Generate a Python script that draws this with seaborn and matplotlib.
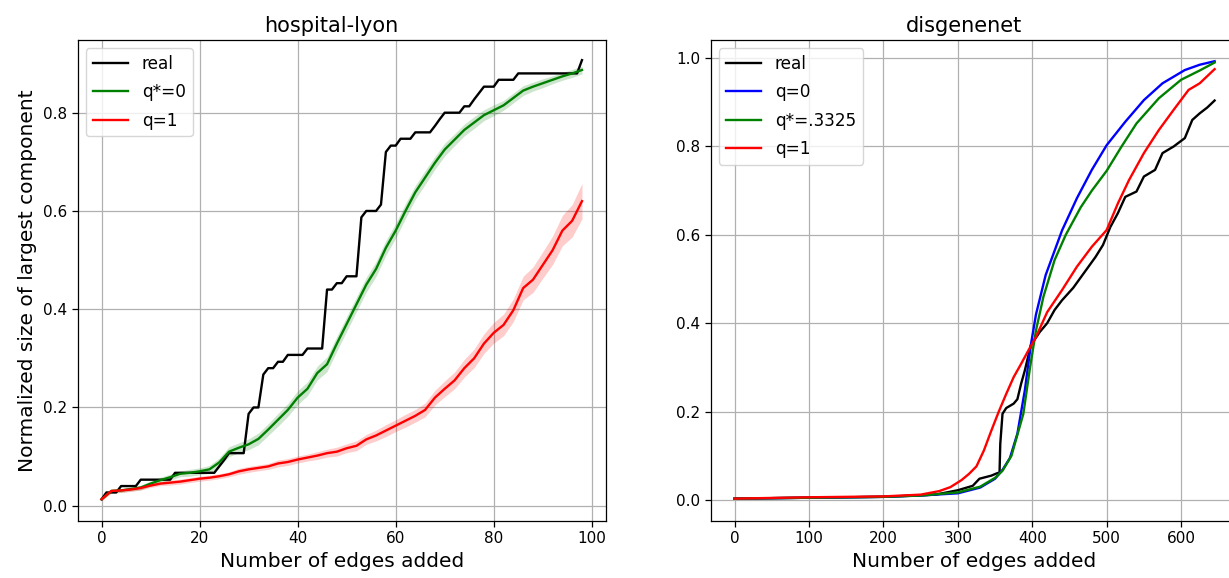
import numpy as np
import pandas as pd
import matplotlib
matplotlib.use("Agg")
import matplotlib.pyplot as plt
import seaborn as sns

# ---------------- hospital-lyon ----------------
hl_real_x = list(range(0, 99))
hl_real_y = [
    0.013, 0.027, 0.027, 0.027, 0.040, 0.040, 0.040, 0.040, 0.053, 0.053,  # 0-9
    0.053, 0.053, 0.053, 0.053, 0.053, 0.067, 0.067, 0.067, 0.067, 0.067,  # 10-19
    0.067, 0.067, 0.067, 0.067, 0.080, 0.093, 0.107, 0.107, 0.107, 0.107,  # 20-29
    0.187, 0.200, 0.200, 0.267, 0.280, 0.280, 0.293, 0.293, 0.307, 0.307,  # 30-39
    0.307, 0.307, 0.320, 0.320, 0.320, 0.320, 0.440, 0.440, 0.453, 0.453,  # 40-49
    0.467, 0.467, 0.467, 0.587, 0.600, 0.600, 0.600, 0.613, 0.720, 0.733,  # 50-59
    0.733, 0.747, 0.747, 0.747, 0.760, 0.760, 0.760, 0.760, 0.773, 0.787,  # 60-69
    0.800, 0.800, 0.800, 0.800, 0.813, 0.813, 0.827, 0.840, 0.853, 0.853,  # 70-79
    0.853, 0.867, 0.867, 0.867, 0.867, 0.880, 0.880, 0.880, 0.880, 0.880,  # 80-89
    0.880, 0.880, 0.880, 0.880, 0.880, 0.880, 0.880, 0.880, 0.907,         # 90-98
]

hl_model_x = list(range(0, 100, 2))
hl_q0_y = [
    0.013, 0.030, 0.031, 0.034, 0.037, 0.045, 0.052, 0.058, 0.065, 0.067,  # 0-18
    0.070, 0.074, 0.088, 0.110, 0.118, 0.125, 0.136, 0.155, 0.175, 0.195,  # 20-38
    0.220, 0.238, 0.270, 0.288, 0.330, 0.370, 0.410, 0.450, 0.482, 0.525,  # 40-58
    0.560, 0.600, 0.638, 0.668, 0.698, 0.725, 0.745, 0.765, 0.780, 0.795,  # 60-78
    0.805, 0.815, 0.830, 0.845, 0.853, 0.860, 0.867, 0.874, 0.880, 0.887,  # 80-98
]
hl_q0_err = [
    0.003, 0.004, 0.004, 0.004, 0.005, 0.005, 0.006, 0.006, 0.006, 0.007,
    0.007, 0.008, 0.009, 0.010, 0.010, 0.011, 0.012, 0.012, 0.013, 0.013,
    0.014, 0.014, 0.014, 0.015, 0.015, 0.015, 0.015, 0.015, 0.015, 0.015,
    0.015, 0.015, 0.014, 0.014, 0.013, 0.013, 0.012, 0.012, 0.012, 0.011,
    0.011, 0.010, 0.010, 0.010, 0.009, 0.009, 0.008, 0.008, 0.008, 0.008,
]
hl_q1_y = [
    0.013, 0.030, 0.031, 0.033, 0.036, 0.041, 0.045, 0.047, 0.049, 0.052,  # 0-18
    0.055, 0.057, 0.060, 0.064, 0.070, 0.074, 0.077, 0.080, 0.086, 0.089,  # 20-38
    0.094, 0.098, 0.102, 0.107, 0.110, 0.117, 0.122, 0.135, 0.143, 0.153,  # 40-58
    0.163, 0.173, 0.183, 0.195, 0.220, 0.238, 0.255, 0.280, 0.300, 0.330,  # 60-78
    0.352, 0.368, 0.398, 0.443, 0.460, 0.490, 0.520, 0.560, 0.580, 0.620,  # 80-98
]
hl_q1_err = [
    0.003, 0.004, 0.004, 0.004, 0.004, 0.004, 0.004, 0.005, 0.005, 0.005,
    0.005, 0.005, 0.005, 0.005, 0.006, 0.006, 0.006, 0.006, 0.007, 0.007,
    0.007, 0.007, 0.008, 0.008, 0.009, 0.009, 0.010, 0.010, 0.011, 0.012,
    0.012, 0.013, 0.013, 0.014, 0.015, 0.016, 0.017, 0.018, 0.019, 0.020,
    0.021, 0.022, 0.023, 0.024, 0.026, 0.027, 0.029, 0.031, 0.033, 0.036,
]

# ---------------- disgenenet ----------------
dg_real_x = [0, 100, 200, 270, 300, 320, 329, 345, 352, 356, 357, 360, 365, 375,
             380, 385, 390, 398, 410, 420, 430, 440, 455, 470, 485, 495, 505,
             515, 525, 540, 550, 565, 575, 590, 605, 615, 625, 635, 645]
dg_real_y = [0.003, 0.005, 0.007, 0.012, 0.022, 0.032, 0.048, 0.055, 0.060, 0.062,
             0.127, 0.195, 0.208, 0.218, 0.228, 0.263, 0.293, 0.350, 0.380, 0.400,
             0.430, 0.452, 0.480, 0.515, 0.550, 0.577, 0.618, 0.649, 0.686, 0.698,
             0.732, 0.747, 0.785, 0.800, 0.819, 0.860, 0.875, 0.888, 0.904]

dg_q0_x = [0, 100, 200, 250, 300, 330, 350, 360, 370, 380, 390, 398, 405, 418,
           440, 460, 480, 500, 525, 550, 575, 605, 625, 645]
dg_q0_y = [0.003, 0.005, 0.007, 0.010, 0.015, 0.028, 0.048, 0.068, 0.095, 0.150,
           0.248, 0.350, 0.420, 0.509, 0.610, 0.683, 0.747, 0.803, 0.856, 0.905,
           0.943, 0.973, 0.985, 0.993]

dg_qs_x = [0, 100, 200, 250, 300, 330, 350, 360, 372, 388, 397, 405, 415, 430,
           445, 465, 480, 500, 520, 540, 570, 600, 625, 645]
dg_qs_y = [0.003, 0.005, 0.007, 0.010, 0.017, 0.030, 0.050, 0.066, 0.100, 0.195,
           0.300, 0.384, 0.460, 0.543, 0.600, 0.662, 0.700, 0.745, 0.800, 0.852,
           0.909, 0.951, 0.972, 0.990]

dg_q1_x = [0, 100, 200, 250, 275, 290, 305, 315, 325, 335, 345, 355, 365, 375,
           385, 395, 405, 420, 440, 460, 480, 500, 515, 530, 550, 570, 590, 610,
           625, 645]
dg_q1_y = [0.003, 0.006, 0.008, 0.012, 0.020, 0.029, 0.045, 0.059, 0.076, 0.112,
           0.157, 0.200, 0.240, 0.278, 0.308, 0.339, 0.369, 0.425, 0.475, 0.528,
           0.573, 0.611, 0.671, 0.724, 0.785, 0.837, 0.883, 0.928, 0.943, 0.975]

xlabel_text = "Number of edges added"
ylabel_text = "Normalized size of largest component"

W, H = 1229, 578
fig = plt.figure(figsize=(W / 100, H / 100), dpi=100)
bottom = (H - 520.7) / H
height = (520.7 - 40) / H
ax1 = fig.add_axes([77.5 / W, bottom, 528.5 / W, height])
ax2 = fig.add_axes([710.6 / W, bottom, 528.0 / W, height])

LW = 1.7
# left panel
sns.lineplot(x=hl_real_x, y=hl_real_y, color="black", label="real", ax=ax1, lw=LW)
sns.lineplot(x=hl_model_x, y=hl_q0_y, color="green", label="q*=0", ax=ax1, lw=LW)
ax1.fill_between(hl_model_x, np.array(hl_q0_y) - np.array(hl_q0_err),
                 np.array(hl_q0_y) + np.array(hl_q0_err), color="green", alpha=0.2, lw=0)
sns.lineplot(x=hl_model_x, y=hl_q1_y, color="red", label="q=1", ax=ax1, lw=LW)
ax1.fill_between(hl_model_x, np.array(hl_q1_y) - np.array(hl_q1_err),
                 np.array(hl_q1_y) + np.array(hl_q1_err), color="red", alpha=0.2, lw=0)
ax1.set_xlim(-4.9, 102.9)
ax1.set_ylim(-0.0305, 0.948)
ax1.set_xticks([0, 20, 40, 60, 80, 100])
ax1.set_yticks([0.0, 0.2, 0.4, 0.6, 0.8])
ax1.set_title("hospital-lyon", fontsize=15, x=0.48)
ax1.set_xlabel(xlabel_text, fontsize=14.5)
ax1.set_ylabel(ylabel_text, fontsize=14.5)

# right panel
sns.lineplot(x=dg_real_x, y=dg_real_y, color="black", label="real", ax=ax2, lw=LW)
sns.lineplot(x=dg_q0_x, y=dg_q0_y, color="blue", label="q=0", ax=ax2, lw=LW)
sns.lineplot(x=dg_qs_x, y=dg_qs_y, color="green", label="q*=.3325", ax=ax2, lw=LW)
sns.lineplot(x=dg_q1_x, y=dg_q1_y, color="red", label="q=1", ax=ax2, lw=LW)
ax2.set_xlim(-32.25, 677.25)
ax2.set_ylim(-0.047, 1.041)
ax2.set_xticks([0, 100, 200, 300, 400, 500, 600])
ax2.set_yticks([0.0, 0.2, 0.4, 0.6, 0.8, 1.0])
ax2.set_title("disgenenet", fontsize=15, x=0.48)
ax2.set_xlabel(xlabel_text, fontsize=14.5)
ax2.set_ylabel("")

for ax in (ax1, ax2):
    ax.grid(True, color="#b0b0b0", lw=0.9)
    ax.set_axisbelow(True)
    ax.tick_params(labelsize=11, width=0.9, length=4)
    ax.legend(loc="upper left", fontsize=12.2, handlelength=2.1, labelspacing=0.6)
    for s in ax.spines.values():
        s.set_color("black")
        s.set_linewidth(0.9)

fig.savefig("out.png", dpi=100)
